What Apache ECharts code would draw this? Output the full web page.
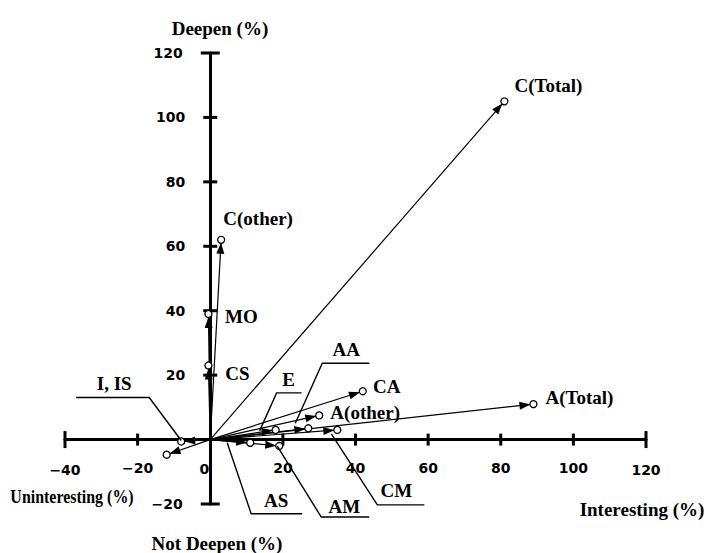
<!DOCTYPE html>
<html><head><meta charset="utf-8">
<script src="https://cdn.jsdelivr.net/npm/echarts@6/dist/echarts.min.js"></script>
<style>html,body{margin:0;padding:0;background:#fff}#c{width:707px;height:553px}</style>
</head><body><div id="c"></div>
<script>
// ---- data ----
const names = ['C(Total)','A(Total)','CA','A(other)','C(other)','MO','CS','I','IS','E','AA','AS','AM','CM'];
const interesting = [81, 89, 42, 30, 3, -0.5, -0.5, -8, -12, 18, 27, 11, 19, 35];
const deepen = [105, 11, 15, 7.5, 62, 39, 23, -0.6, -4.7, 3, 3.5, -1, -2, 3];
const xTicks = [-40, -20, 0, 20, 40, 60, 80, 100, 120];
const yTicks = [-20, 0, 20, 40, 60, 80, 100, 120];
const axisTitles = ['Deepen (%)', 'Interesting (%)', 'Uninteresting (%)', 'Not Deepen (%)'];

// ---- styles / label placement (pixel offsets from the point) ----
const directLabels = {
  'C(Total)': [44, -16], 'A(Total)': [46, -7], 'CA': [24, -5], 'A(other)': [46, -3],
  'C(other)': [37, -21], 'MO': [33, 3], 'CS': [29, 8]
};
const leaderLabels = {
  'I':  { text: 'I, IS', path: [[0, -1], [-32, -44], [-105, -44]], label: [-67, -58] },
  'E':  { text: 'E',  path: [[-16, 1], [1, -37], [26, -37]], label: [13, -50] },
  'AA': { text: 'AA', path: [[-13, -5], [14, -65], [61, -65]], label: [38, -79] },
  'AS': { text: 'AS', path: [[-23, 0], [1, 71], [52, 71]], label: [26, 58] },
  'AM': { text: 'AM', path: [[-2, 0], [42, 71], [90, 71]], label: [65, 60] },
  'CM': { text: 'CM', path: [[-6, 4], [40, 75], [87, 75]], label: [59, 61] }
};
const titlePos = [[220, 28], [642, 509], [72, 497], [217, 543]];
const titleScale = [1, 1, 0.84, 1];
const LABEL_FONT = 'bold 19px "Liberation Serif"';
const TICK_FONT = { color: '#000', fontFamily: 'DejaVu Sans', fontWeight: 'bold', fontSize: 14 };

const fmt = v => (v < 0 ? '\u2212' + Math.abs(v) : String(v));
const chart = echarts.init(document.getElementById('c'), null, { renderer: 'svg' });

const points = names.map((n, i) => [interesting[i], deepen[i]]);
const tickLen = (t, arr) => (t === arr[0] || t === arr[arr.length - 1]) ? 17 : 12;

const xTickData = xTicks.map(t => t === 0
  ? { value: [0, 0], symbolSize: 0, label: { distance: 22, offset: [-6, 0] } }
  : { value: [t, 0], symbolSize: [3, tickLen(t, xTicks)] });
const yTickData = yTicks.filter(t => t !== 0)
  .map(t => ({ value: [0, t], symbolSize: [tickLen(t, yTicks) + 2, 3] }));

chart.setOption({
  animation: false,
  backgroundColor: '#fff',
  grid: { left: 65, right: 61, top: 53, bottom: 49 },
  xAxis: {
    type: 'value', min: -40, max: 120, interval: 20,
    axisLine: { onZero: true, lineStyle: { color: '#000', width: 3 } },
    axisTick: { show: false }, splitLine: { show: false }, axisLabel: { show: false }
  },
  yAxis: {
    type: 'value', min: -20, max: 120, interval: 20,
    axisLine: { onZero: true, lineStyle: { color: '#000', width: 3 } },
    axisTick: { show: false }, splitLine: { show: false }, axisLabel: { show: false }
  },
  series: [
    {
      type: 'scatter', silent: true, symbol: 'rect', z: 3,
      data: xTickData,
      itemStyle: { color: '#000', opacity: 1 },
      label: Object.assign({ show: true, position: 'bottom', distance: 15,
        formatter: p => fmt(p.value[0]) }, TICK_FONT)
    },
    {
      type: 'scatter', silent: true, symbol: 'rect', z: 3,
      data: yTickData,
      itemStyle: { color: '#000', opacity: 1 },
      label: Object.assign({ show: true, position: 'left', distance: 18,
        formatter: p => fmt(p.value[1]) }, TICK_FONT)
    },
    {
      type: 'lines', coordinateSystem: 'cartesian2d', silent: true, z: 4,
      symbol: ['none', 'none'],
      lineStyle: { color: '#000', width: 1.2, opacity: 1 },
      data: points.map(p => ({ coords: [[0, 0], p] }))
    },
    {
      type: 'scatter', silent: true, z: 6, symbol: 'circle', symbolSize: 7,
      itemStyle: { color: '#fff', borderColor: '#000', borderWidth: 1.3, opacity: 1 },
      data: points.map((p, i) => ({ name: names[i], value: p }))
    },
    {
      id: 'heads', type: 'scatter', silent: true, z: 5, symbol: 'triangle',
      itemStyle: { color: '#000', opacity: 1 }, data: []
    }
  ]
});

// ---- arrowheads and annotations positioned from the data points ----
const origin = chart.convertToPixel({ gridIndex: 0 }, [0, 0]);
const heads = [];
const g = [];
names.forEach((n, i) => {
  const px = chart.convertToPixel({ gridIndex: 0 }, points[i]);
  const dx = px[0] - origin[0], dy = px[1] - origin[1];
  const len = Math.hypot(dx, dy) || 1;
  const ux = dx / len, uy = dy / len;
  const ang = Math.atan2(-uy, ux) * 180 / Math.PI;
  heads.push({ value: points[i], symbolSize: [8, 11], symbolRotate: ang - 90, symbolOffset: [-ux * 8.5, -uy * 8.5] });

  if (directLabels[n]) {
    const o = directLabels[n];
    g.push({ type: 'text', z: 10, style: { text: n, x: px[0] + o[0], y: px[1] + o[1], font: LABEL_FONT, fill: '#000', align: 'center', verticalAlign: 'middle' } });
  }
  if (leaderLabels[n]) {
    const L = leaderLabels[n];
    g.push({ type: 'polyline', z: 9, shape: { points: L.path.map(d => [px[0] + d[0], px[1] + d[1]]) }, style: { stroke: '#000', lineWidth: 1.4, fill: null } });
    g.push({ type: 'text', z: 10, style: { text: L.text, x: px[0] + L.label[0], y: px[1] + L.label[1], font: LABEL_FONT, fill: '#000', align: 'center', verticalAlign: 'middle' } });
  }
});
axisTitles.forEach((t, i) => {
  g.push({ type: 'text', z: 10, x: titlePos[i][0], y: titlePos[i][1], scaleX: titleScale[i],
    style: { text: t, x: 0, y: 0, font: LABEL_FONT, fill: '#000', align: 'center', verticalAlign: 'middle' } });
});
chart.setOption({ series: [{ id: 'heads', data: heads }], graphic: g });
</script>
</body></html>
